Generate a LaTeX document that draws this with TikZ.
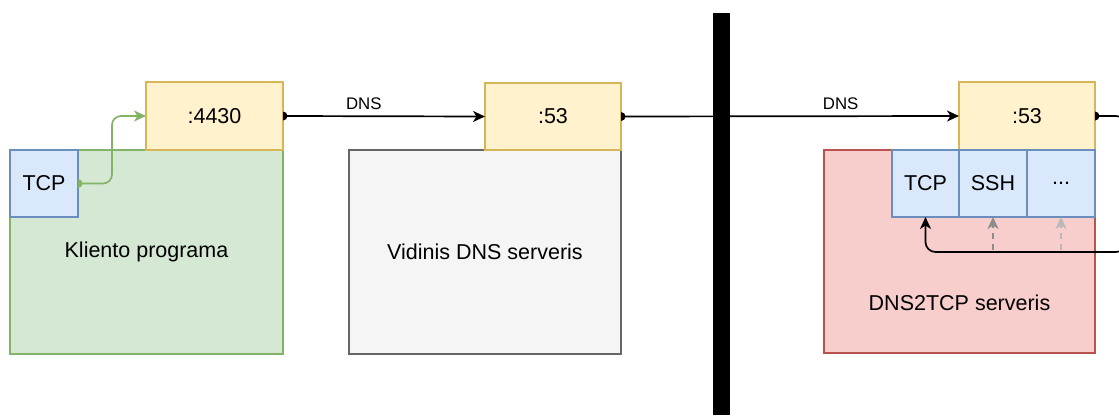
\documentclass[tikz,border=0pt]{standalone}
\usepackage{fontspec}
\setmainfont{Liberation Sans}
\usetikzlibrary{arrows.meta}
\definecolor{ylwF}{HTML}{FFF2CC}\definecolor{ylwD}{HTML}{D6B656}
\definecolor{grnF}{HTML}{D5E8D4}\definecolor{grnD}{HTML}{82B366}
\definecolor{bluF}{HTML}{DAE8FC}\definecolor{bluD}{HTML}{6C8EBF}
\definecolor{redF}{HTML}{F8CECC}\definecolor{redD}{HTML}{B85450}
\definecolor{gryF}{HTML}{F5F5F5}\definecolor{gryD}{HTML}{666666}
\begin{document}
\begin{tikzpicture}[x=1pt,y=-1pt,
  box/.style={draw, line width=1.3pt, anchor=north west, inner sep=0pt, outer sep=0pt,
    font=\fontsize{21.5}{25}\selectfont},
  ybox/.style={box, fill=ylwF, draw=ylwD},
  gbox/.style={box, fill=grnF, draw=grnD},
  bbox/.style={box, fill=bluF, draw=bluD},
  rbox/.style={box, fill=redF, draw=redD},
  kbox/.style={box, fill=gryF, draw=gryD},
  conn/.style={line width=1.7pt, -{Stealth[length=12pt,width=11pt,inset=3.5pt]}},
  dconn/.style={conn, line width=1.4pt, dash pattern=on 6pt off 5pt},
  elabel/.style={font=\fontsize{16.8}{19}\selectfont, inner sep=0pt},
  dlabel/.style={font=\fontsize{21.5}{25}\selectfont, inner sep=0pt}]
\useasboundingbox (0,0) rectangle (1119,415);
% left client
\node[gbox, minimum width=273pt, minimum height=204pt] (client) at (10,150) {Kliento programa};
\node[bbox, minimum width=68pt, minimum height=67pt] (tcpL) at (10,150) {TCP};
\node[ybox, minimum width=137pt, minimum height=68pt] (p4430) at (146,82) {:4430};
% internal DNS
\node[kbox, minimum width=272pt, minimum height=204pt] (vidinis) at (349,150) {Vidinis DNS serveris};
\node[ybox, minimum width=136pt, minimum height=67pt] (p53a) at (485,83) {:53};
% dns2tcp server
\node[rbox, minimum width=271pt, minimum height=203pt] (server) at (824,150) {};
\node[dlabel] (serverlbl) at (959.5,303) {DNS2TCP serveris};
\node[ybox, minimum width=136pt, minimum height=68pt] (p53b) at (959,82) {:53};
\node[bbox, minimum width=67pt, minimum height=67pt] (tcpR) at (892,150) {TCP};
\node[bbox, minimum width=68pt, minimum height=67pt] (ssh) at (959,150) {SSH};
\node[bbox, minimum width=68pt, minimum height=67pt] (etc) at (1027,150) {...};
\coordinate (yret) at (0,252);
\coordinate (xret) at (1126,0);
% green connector
\draw[conn, draw=grnD, rounded corners=9pt] (tcpL.east) -- ++(34,0) |- (p4430.west);
\fill[grnD] (tcpL.east) ++(0,-4.5) arc[start angle=-90, end angle=90, radius=4.5] -- cycle;
% DNS connectors
\draw[conn] (p4430.east) -- node[elabel, pos=0.4, above=6pt] {DNS} (p53a.west);
\fill (p4430.east) ++(0,-4.5) arc[start angle=-90, end angle=90, radius=4.5] -- cycle;
\draw[conn] (p53a.east) -- node[elabel, pos=0.65, above=6pt] {DNS} (p53b.west);
\fill (p53a.east) ++(0,-4.5) arc[start angle=-90, end angle=90, radius=4.5] -- cycle;
% dashed grey arrows
\draw[dconn, draw=black!45] (ssh.south |- yret) ++(0,-2) -- (ssh.south);
\draw[dconn, draw=black!28] (etc.south |- yret) ++(0,-2) -- (etc.south);
% return connector
\draw[conn, rounded corners=10pt] (p53b.east) -- (xret |- p53b.east) -- (xret |- yret) -| (tcpR.south);
\fill (p53b.east) ++(0,-4.5) arc[start angle=-90, end angle=90, radius=4.5] -- cycle;
% separator bar
\fill[black] (713,13) rectangle (730,415);
\end{tikzpicture}
\end{document}
